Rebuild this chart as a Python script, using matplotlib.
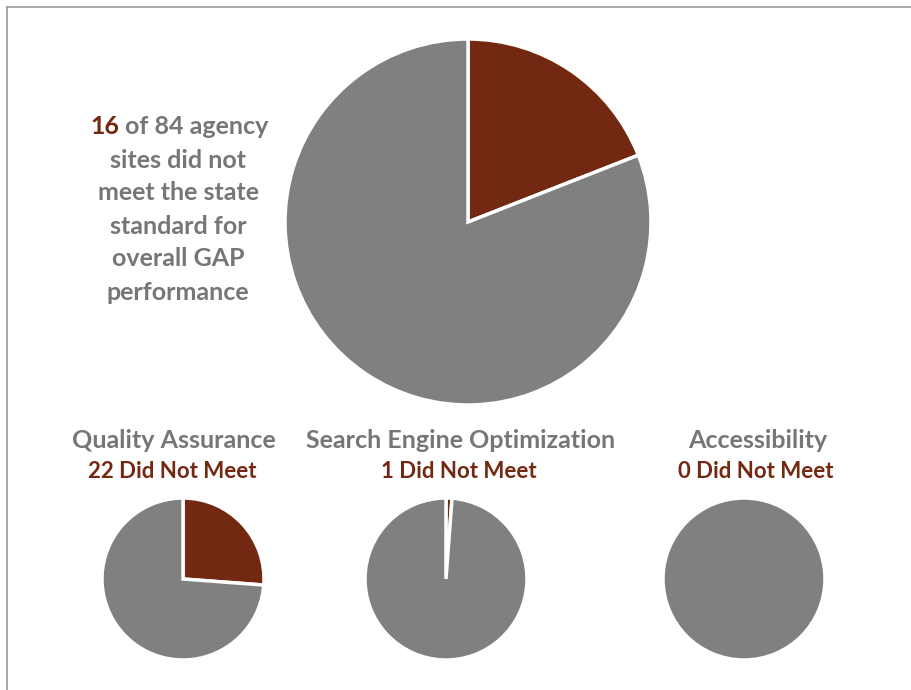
import matplotlib
matplotlib.use("Agg")
import matplotlib.pyplot as plt
from matplotlib.lines import Line2D

# data
total_sites = 84
overall_failed = 16
panel_titles = ["Quality Assurance", "Search Engine Optimization", "Accessibility"]
panel_failed = [22, 1, 0]
main_lines = ["sites did not", "meet the state", "standard for", "overall GAP", "performance"]

brown = "#722811"
gray = "#808080"
text_gray = "#767676"

W, H = 911, 690
fig = plt.figure(figsize=(W / 100, H / 100), dpi=100)
ax = fig.add_axes([0, 0, 1, 1])
plt.rcParams['font.family'] = ['Lato', 'DejaVu Sans']


def Y(y):
    # pixel row -> data y
    return H - y


def draw_pie(vals, cx, cy, r):
    wedges, _ = ax.pie(vals, colors=[brown, gray], startangle=90, counterclock=False,
                       center=(cx, Y(cy)), radius=r,
                       wedgeprops=dict(edgecolor="white", linewidth=2.5))
    for w, v in zip(wedges, vals):
        if v == 0:
            w.set_visible(False)


# big pie
draw_pie([overall_failed, total_sites - overall_failed], 468, 222, 183)

# small pies
centers = [183, 446, 744]
for cx, n in zip(centers, panel_failed):
    draw_pie([n, total_sites - n], cx, 579, 81)

title_x = [174, 461, 758]
for tx, title, n in zip(title_x, panel_titles, panel_failed):
    ax.text(tx, Y(441), title, ha="center", va="center", fontsize=18,
            fontweight="bold", color=text_gray)
    ax.text(tx - 2, Y(472), "%d Did Not Meet" % n, ha="center", va="center", fontsize=16,
            fontweight="bold", color=brown)

# left annotation
ax.text(119, Y(127), str(overall_failed), ha="right", va="center", fontsize=18,
        fontweight="bold", color=brown)
ax.text(125, Y(127), "of %d agency" % total_sites, ha="left", va="center", fontsize=18,
        fontweight="bold", color=text_gray)
for i, line in enumerate(main_lines):
    ax.text(178, Y(160 + 33 * i), line, ha="center", va="center", fontsize=18,
            fontweight="bold", color=text_gray)

ax.set_xlim(0, W)
ax.set_ylim(0, H)
ax.set_aspect("auto")
ax.axis("off")

# frame lines
fig.add_artist(Line2D([7 / W, 1], [1 - 7 / H, 1 - 7 / H], color="#9a9a9a", lw=1.2))
fig.add_artist(Line2D([7 / W, 7 / W], [0, 1 - 7 / H], color="#9a9a9a", lw=1.2))

fig.savefig("out.png", dpi=100)
